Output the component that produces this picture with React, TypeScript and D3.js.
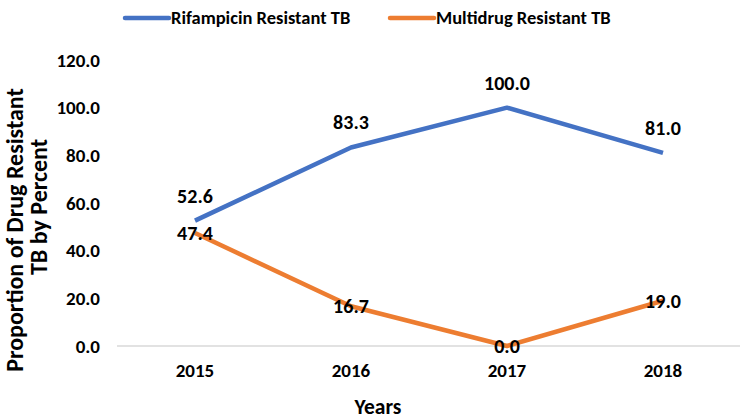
import React from "react";
import * as d3 from "d3";

const years = ["2015", "2016", "2017", "2018"];
const rifampicin = [52.6, 83.3, 100.0, 81.0];
const multidrug = [47.4, 16.7, 0.0, 19.0];
const yTicks = [0, 20, 40, 60, 80, 100, 120];

const FONT = "Carlito, 'Liberation Sans', Arial, sans-serif";

export default function App() {
  const width = 750;
  const height = 420;

  // plot area
  const x = d3.scalePoint<string>().domain(years).range([117, 741]).padding(0.5);
  const y = d3.scaleLinear().domain([0, 120]).range([346, 60]);

  const line = d3
    .line<number>()
    .x((_, i) => x(years[i]) as number)
    .y((d) => y(d));

  const fmt = d3.format(".1f");

  const series = [
    { name: "Rifampicin Resistant TB", values: rifampicin, color: "#4472C4", above: true, lx: 125 },
    { name: "Multidrug Resistant TB", values: multidrug, color: "#ED7D31", above: false, lx: 390 },
  ];

  return (
    <svg
      width={width}
      height={height}
      style={{ position: "absolute", left: 0, top: 0, background: "#fff" }}
      fontFamily={FONT}
      fontWeight="bold"
    >
      {/* legend */}
      {series.map((s) => (
        <g key={s.name}>
          <line x1={s.lx} x2={s.lx + 44} y1={18} y2={18} stroke={s.color} strokeWidth={4.5} strokeLinecap="round" />
          <text x={s.lx + 46} y={18} dy="0.35em" fontSize={18.5} fill="#000">
            {s.name}
          </text>
        </g>
      ))}

      {/* y tick labels */}
      {yTicks.map((t) => (
        <text key={t} x={100} y={y(t)} dy="0.35em" textAnchor="end" fontSize={19} fill="#000">
          {fmt(t)}
        </text>
      ))}

      {/* baseline */}
      <line x1={117} x2={740} y1={y(0)} y2={y(0)} stroke="#d9d9d9" strokeWidth={1.5} />

      {/* x labels */}
      {years.map((yr) => (
        <text key={yr} x={x(yr)} y={377} textAnchor="middle" fontSize={19} fill="#000">
          {yr}
        </text>
      ))}

      {/* axis titles */}
      <text x={378} y={414} textAnchor="middle" fontSize={21.5} fill="#000">
        Years
      </text>
      <text transform="translate(23,230) rotate(-90)" textAnchor="middle" fontSize={24} fill="#000">
        Proportion of Drug Resistant
      </text>
      <text transform="translate(47,207) rotate(-90)" textAnchor="middle" fontSize={24} fill="#000">
        TB by Percent
      </text>

      {/* lines */}
      {series.map((s) => (
        <path key={s.name} d={line(s.values) || ""} fill="none" stroke={s.color} strokeWidth={4.5} strokeLinejoin="round" />
      ))}

      {/* data labels */}
      {series.map((s) =>
        s.values.map((v, i) => (
          <text
            key={s.name + i}
            x={x(years[i])}
            y={s.above ? y(v) - 25 : y(v)}
            dy="0.35em"
            textAnchor="middle"
            fontSize={20}
            fill="#000"
          >
            {fmt(v)}
          </text>
        ))
      )}
    </svg>
  );
}
